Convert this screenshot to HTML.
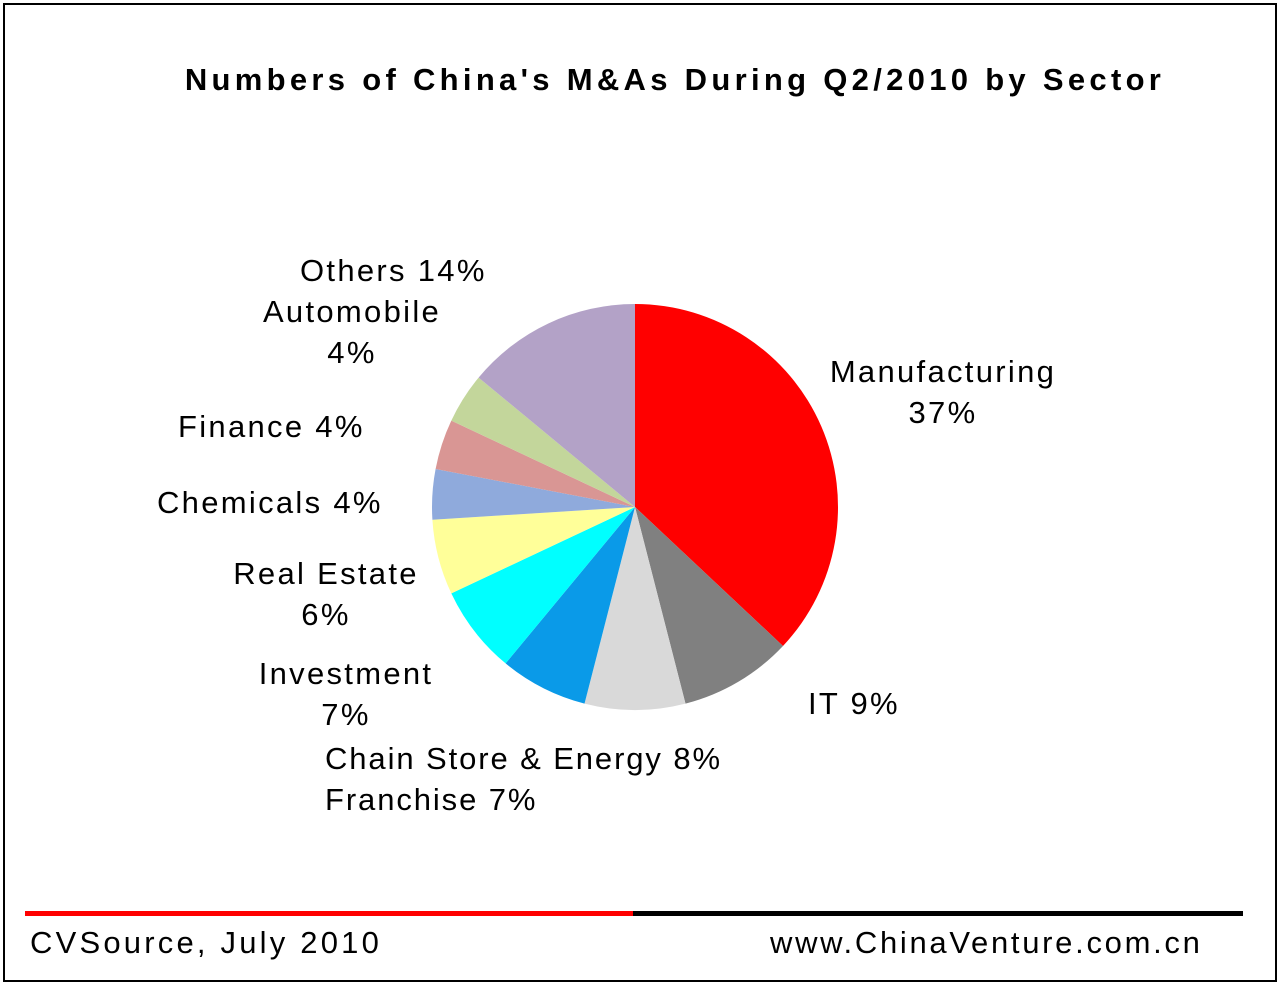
<!DOCTYPE html>
<html><head><meta charset="utf-8"><style>
body{margin:0;background:#fff;}
#frame{position:absolute;left:3px;top:3px;width:1270px;height:975px;border:2px solid #000;background:#fff;}
.t{position:absolute;font-family:"Liberation Sans",sans-serif;color:#000;white-space:nowrap;}
.lbl{font-size:31px;line-height:41px;letter-spacing:2.3px;}
.c{width:400px;margin-left:-200px;text-align:center;}
</style></head><body>
<div id="frame"></div>
<div class="t" style="left:0;width:1350px;text-align:center;top:62px;font-size:31px;font-weight:bold;letter-spacing:4.3px;">Numbers of China's M&amp;As During Q2/2010 by Sector</div>
<svg id="pie" width="1281" height="986" style="position:absolute;left:0;top:0"></svg>
<div class="t lbl" style="left:300px;top:250px;">Others 14%</div>
<div class="t lbl c" style="left:352px;top:291px;">Automobile<br>4%</div>
<div class="t lbl" style="left:178px;top:406px;">Finance 4%</div>
<div class="t lbl" style="left:157px;top:482px;">Chemicals 4%</div>
<div class="t lbl c" style="left:326px;top:553px;">Real Estate<br>6%</div>
<div class="t lbl c" style="left:346px;top:653px;">Investment<br>7%</div>
<div class="t lbl" style="left:325px;top:738px;letter-spacing:1.9px;">Chain Store &amp; Energy 8%<br>Franchise 7%</div>
<div class="t lbl" style="left:808px;top:683px;">IT 9%</div>
<div class="t lbl c" style="left:943px;top:351px;">Manufacturing<br>37%</div>
<div style="position:absolute;left:25px;top:911px;width:608px;height:5px;background:#ff0000"></div>
<div style="position:absolute;left:633px;top:911px;width:610px;height:5px;background:#000"></div>
<div class="t" style="left:30px;top:925px;font-size:31px;letter-spacing:3.2px;">CVSource, July 2010</div>
<div class="t" style="left:770px;top:925px;font-size:31px;letter-spacing:2.7px;">www.ChinaVenture.com.cn</div>
<script>
const categories=["Manufacturing","IT","Energy","Chain Store & Franchise","Investment","Real Estate","Chemicals","Finance","Automobile","Others"];
const values=[37,9,8,7,7,6,4,4,4,14];
const colors=["#ff0000","#808080","#d9d9d9","#0a9ae8","#00ffff","#ffff99","#8faadc","#d99694","#c3d69b","#b3a2c7"];
const svg=document.getElementById('pie');
const cx=635,cy=507,r=203;
const total=values.reduce((a,b)=>a+b,0);
let acc=0;
function pt(f){const a=f*2*Math.PI;return [cx+r*Math.sin(a),cy-r*Math.cos(a)];}
values.forEach((v,i)=>{
 const f0=acc/total;acc+=v;const f1=acc/total;
 const [x0,y0]=pt(f0),[x1,y1]=pt(f1);
 const p=document.createElementNS('http://www.w3.org/2000/svg','path');
 p.setAttribute('d',`M${cx},${cy}L${x0},${y0}A${r},${r} 0 ${f1-f0>0.5?1:0} 1 ${x1},${y1}Z`);
 p.setAttribute('fill',colors[i]);
 
 
 svg.appendChild(p);
});
</script>
</body></html>
